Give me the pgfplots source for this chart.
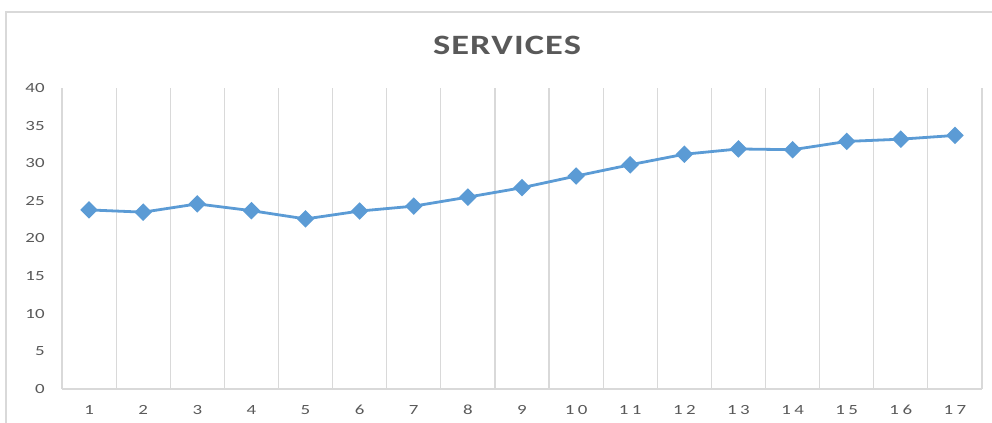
\documentclass[border=0pt]{standalone}
\usepackage{fontspec}
\usepackage{pgfplots}
\pgfplotsset{compat=1.18}
\setmainfont{Carlito}
\newfontfamily\titlefont[FakeStretch=1.3,LetterSpace=4]{Carlito}
\newfontfamily\tickfont[FakeStretch=1.35]{Carlito}
\newfontfamily\xtickfont[FakeStretch=1.35,LetterSpace=25]{Carlito}
\definecolor{linec}{HTML}{5B9BD5}
\definecolor{gridc}{HTML}{D9D9D9}
\definecolor{textc}{HTML}{595959}
\begin{document}
\begin{tikzpicture}[x=1pt,y=1pt]
\useasboundingbox (-31,-17) rectangle (465,194.5);
\draw[color=gridc, line width=0.9pt] (-28,-40) -- (-28,188.5) -- (490,188.5);
\begin{axis}[
  at={(0,0)}, anchor=south west,
  scale only axis, width=460pt, height=150.5pt,
  xmin=0.5, xmax=17.5, ymin=0, ymax=40,
  ytick={0,5,...,40},
  xtick={1,...,17},
  minor xtick={0.5,1.5,...,17.5},
  xminorgrids,
  minor grid style={color=gridc, line width=0.6pt},
  major tick length=0pt, minor tick length=0pt,
  axis x line=bottom, axis y line=left,
  axis line style={-},
  x axis line style={draw=gridc, line width=0.6pt},
  y axis line style={draw=none},
  /pgf/number format/assume math mode=true,
  yticklabel style={font=\tickfont\fontsize{7}{8}\selectfont, text=textc, inner sep=0pt, xshift=-8.5pt},
  xticklabel style={font=\xtickfont\fontsize{7}{8}\selectfont, text=textc, inner sep=0pt, yshift=-8pt},
  clip=false,
]
\addplot[color=linec, line width=1.4pt, mark=square*, mark size=2.4pt,
  mark options={rotate=45, fill=linec, draw=none}]
  coordinates {
  (1,23.8) (2,23.5) (3,24.6) (4,23.7) (5,22.6) (6,23.65) (7,24.3) (8,25.5)
  (9,26.75) (10,28.3) (11,29.8) (12,31.2) (13,31.9) (14,31.8) (15,32.9)
  (16,33.2) (17,33.7)
  };
\end{axis}
\node[anchor=base, font=\titlefont\bfseries\fontsize{14}{16}\selectfont, text=textc] at (222.5,167) {SERVICES};
\end{tikzpicture}
\end{document}
